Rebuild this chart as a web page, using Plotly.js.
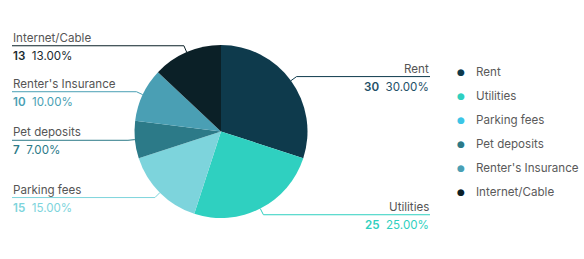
<!DOCTYPE html>
<html>
<head>
<meta charset="utf-8">
<script src="https://cdn.plot.ly/plotly-3.0.1.min.js"></script>
<style>html,body{margin:0;padding:0;background:#fff;}#chart{width:584px;height:259px;}</style>
</head>
<body>
<div id="chart"></div>
<script>
const categories = ["Rent", "Utilities", "Parking fees", "Pet deposits", "Renter's Insurance", "Internet/Cable"];
const values = [30, 25, 15, 7, 10, 13];
const sliceColors = ["#0e3a4c", "#2fd0c0", "#7dd4dc", "#2c7a88", "#4a9fb4", "#0b2027"];
const legendColors = ["#0e3a4c", "#2fd0c0", "#3cc5e6", "#2c7a88", "#4a9fb4", "#0b2027"];
const valueTextColors = ["#1e5067", "#2fd0c0", "#7dd4dc", "#2c7a88", "#4a9fb4", "#1a2a30"];

const W = 584, H = 259;
const cx = 221, cy = 131.5, R = 86.5;
const px = x => x / W;
const py = y => 1 - y / H;
const FONT = "Inter, 'Noto Sans', sans-serif";
const FS = 11.6;

const total = values.reduce((a, b) => a + b, 0);
const annotations = [];
const shapes = [];
let cum = 0;
values.forEach((v, i) => {
  const mid = (cum + v / 2) / total * 2 * Math.PI;
  cum += v;
  const s = Math.sin(mid), c = Math.cos(mid);
  const ex = cx + R * s, ey = cy - R * c;
  const kx = cx + R * 1.08 * s, ky = cy - R * 1.08 * c;
  const right = s > 0;
  const endX = right ? 430 : 12;
  shapes.push({
    type: "path", xref: "paper", yref: "paper",
    path: `M ${px(ex)} ${py(ey)} L ${px(kx)} ${py(ky)} L ${px(endX)} ${py(ky)}`,
    line: {color: sliceColors[i], width: 1}
  });
  const pct = (v / total * 100).toFixed(2) + "%";
  annotations.push({
    xref: "paper", yref: "paper", x: px(endX), y: py(ky - 8),
    xanchor: right ? "right" : "left", yanchor: "middle",
    showarrow: false, borderpad: 0,
    text: categories[i], font: {family: FONT, size: FS, color: "#555555"}
  });
  annotations.push({
    xref: "paper", yref: "paper", x: px(endX), y: py(ky + 10),
    xanchor: right ? "right" : "left", yanchor: "middle",
    showarrow: false, borderpad: 0,
    text: `<span style="font-weight:600">${v}</span>\u00a0\u00a0${pct}`,
    font: {family: FONT, size: FS, color: valueTextColors[i]}
  });
});

// legend
categories.forEach((name, i) => {
  const y = 72 + 24 * i;
  annotations.push({
    xref: "paper", yref: "paper", x: px(461), y: py(y),
    xanchor: "center", yanchor: "middle", showarrow: false, borderpad: 0,
    text: "\u25CF", font: {family: "DejaVu Sans", size: 9, color: legendColors[i]}
  });
  annotations.push({
    xref: "paper", yref: "paper", x: px(475), y: py(y),
    xanchor: "left", yanchor: "middle", showarrow: false, borderpad: 0,
    text: name, font: {family: FONT, size: FS, color: "#5a5a5a"}
  });
});

const trace = {
  type: "pie",
  labels: categories,
  values: values,
  sort: false,
  direction: "clockwise",
  rotation: 0,
  textinfo: "none",
  hoverinfo: "skip",
  marker: {colors: sliceColors, line: {width: 0}},
  domain: {x: [px(cx - R), px(cx + R)], y: [py(cy + R), py(cy - R)]},
  showlegend: false
};

Plotly.newPlot("chart", [trace], {
  width: W, height: H,
  margin: {l: 0, r: 0, t: 0, b: 0},
  paper_bgcolor: "#ffffff",
  showlegend: false,
  annotations: annotations,
  shapes: shapes,
  font: {family: FONT}
}, {displayModeBar: false, staticPlot: true});
</script>
</body>
</html>
